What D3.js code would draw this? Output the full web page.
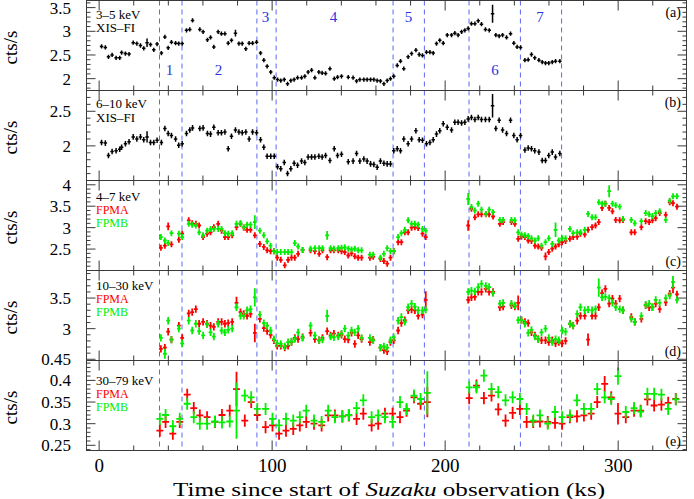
<!DOCTYPE html>
<html><head><meta charset="utf-8">
<script src="https://cdn.jsdelivr.net/npm/d3@7"></script>
<style>body{margin:0;background:#fff} svg{display:block}</style>
</head><body><svg id="c" width="694" height="499"></svg>
<script>
// ---------------- DATA ----------------
const xTickLabels = [0, 100, 200, 300];
const boundaries = [34.9, 47.9, 91.2, 102.3, 169.9, 188.0, 213.8, 243.5, 267.3];
const regionLabels = ["1","2","3","4","5","6","7"];
const regionTimes = [40.7, 69.0, 96.2, 135.5, 178.8, 228.8, 254.8];

// XIS-FI time bins (ks)
const xisT = [1.4,3.6,5.4,7.5,9.8,11.9,13.0,15.2,17.3,19.7,21.8,23.9,25.8,27.7,29.7,31.6,33.5,
 36.0,38.0,39.9,41.8,44.2,46.0,48.0,
 50.5,52.4,54.0,58.2,60.1,62.6,64.4,66.3,68.8,70.7,72.7,74.6,76.5,78.8,80.8,82.7,84.8,86.7,88.7,91.0,
 93.3,95.2,97.1,99.2,101.2,103.1,105.0,107.0,108.9,110.8,112.7,114.7,117.0,118.9,120.8,122.8,124.7,127.0,128.9,130.9,133.4,135.9,137.8,140.1,144.0,
 146.8,148.8,150.7,153.0,154.9,156.9,158.8,160.7,162.6,164.6,166.5,168.4,170.3,172.3,174.2,176.1,178.6,180.6,183.1,185.0,
 186.9,189.2,191.2,193.1,195.0,196.9,198.9,201.2,203.7,205.6,207.5,209.5,211.4,213.3,215.2,217.2,219.1,221.0,223.3,225.5,
 227.4,229.3,231.2,233.2,235.5,237.8,239.7,241.6,243.6,246.1,248.0,249.9,251.8,254.2,256.1,258.0,259.9,261.9,263.8,266.3];
// (a) 3-5 keV
const xisA = [2.68,2.66,2.46,2.50,2.44,2.44,2.55,2.53,2.52,2.76,2.74,2.70,2.64,2.76,2.72,2.61,2.73,
 2.54,2.88,2.65,2.77,2.75,2.74,2.74,
 3.02,3.04,3.23,3.04,2.99,2.82,2.87,2.67,2.99,2.95,2.95,2.75,2.81,2.96,2.74,2.74,2.63,2.75,2.75,2.77,
 2.54,2.39,2.26,2.14,2.02,1.98,1.96,1.98,1.89,1.96,1.98,2.02,2.02,2.05,2.14,2.18,2.02,2.14,2.12,2.11,2.21,2.00,2.03,2.05,2.03,
 2.02,1.95,1.98,1.98,1.98,1.98,1.98,1.96,1.95,1.89,1.96,2.00,2.05,2.28,2.37,2.21,2.46,2.53,2.60,2.51,
 2.49,2.56,2.56,2.54,2.74,2.81,2.75,2.92,2.92,2.96,2.92,2.99,3.02,3.06,3.16,3.16,3.22,3.15,3.04,3.02,
 3.37,2.92,2.90,2.92,2.87,2.95,2.75,2.67,2.66,2.39,2.40,2.51,2.44,2.39,2.35,2.33,2.33,2.35,2.37,2.37];
// (b) 6-10 keV
const xisB = [2.05,2.04,1.86,1.92,1.93,1.95,1.98,2.03,2.06,2.13,2.10,2.13,2.09,2.13,2.05,2.05,2.08,
 2.05,2.25,2.18,2.15,2.10,2.01,2.03,
 2.18,2.23,2.26,2.25,2.26,2.18,2.17,2.27,2.19,2.19,2.20,1.96,2.14,2.23,2.20,2.19,2.20,2.10,2.20,2.19,
 2.09,1.98,1.85,1.85,1.85,1.70,1.67,1.76,1.60,1.67,1.75,1.72,1.78,1.76,1.84,1.84,1.84,1.85,1.84,1.86,1.79,1.96,1.86,1.88,1.77,
 1.78,1.89,1.78,1.81,1.78,1.74,1.73,1.69,1.78,1.75,1.74,1.74,1.93,1.96,1.93,2.10,2.03,2.10,2.22,2.09,
 2.08,2.03,2.05,2.09,2.17,2.22,2.32,2.27,2.23,2.34,2.34,2.33,2.34,2.39,2.41,2.38,2.41,2.38,2.38,2.38,
 2.58,2.25,2.37,2.23,2.18,2.37,2.15,2.09,2.15,1.94,1.97,1.96,1.93,1.91,1.79,1.79,1.86,1.91,1.84,1.89];
const xisAErr = 0.045, xisBErr = 0.04;
const xisABig = [[27.7,0.09],[78.8,0.07],[227.4,0.19]];
const xisBBig = [[27.7,0.08],[227.4,0.17]];

// NuSTAR fine bins (ks), panels (c) and (d)
const nuT = [35.7,38.0,39.9,41.8,46.1,48.0,51.8,53.8,55.9,57.8,60.1,62.4,64.4,66.3,68.8,70.8,72.7,74.6,76.9,79.4,
 81.7,83.6,85.5,87.5,90.0,92.9,95.2,97.1,99.1,101.0,102.9,105.0,107.3,109.2,111.2,113.1,115.0,117.6,122.2,124.7,
 127.2,129.1,131.8,133.8,135.7,138.2,140.1,142.0,144.0,145.9,147.8,149.7,151.7,156.5,158.4,162.6,164.6,166.5,168.4,170.3,
 172.8,174.7,176.7,178.6,180.6,182.5,184.4,186.9,188.8,213.3,215.2,217.2,219.1,221.0,223.5,225.4,227.7,231.6,233.5,238.3,
 240.3,242.2,244.1,246.1,248.0,249.9,251.9,253.8,255.7,258.0,259.9,261.9,263.8,265.7,267.6,269.6,272.1,274.0,276.3,278.2,
 280.7,282.6,284.9,286.9,288.8,290.7,292.6,294.8,296.7,298.6,300.9,302.8,307.6,309.6,313.4,315.9,317.9,319.8,321.7,324.0,
 327.5,329.8,331.7,334.0];
// (c) 4-7 keV
const c_FPMA = [2.53,2.58,3.03,2.61,2.72,2.86,3.17,3.10,3.09,3.05, 2.78,2.86,2.89,3.01,3.09,2.93,2.78,2.78,2.82,3.01,
 3.09,3.00,2.95,2.95,2.82,2.62,2.55,2.47,2.45,2.45, 2.30,2.25,2.12,2.25,2.30,2.30,2.39,2.48,2.47,2.45,
 2.39,2.47,2.31,2.47,2.47,2.47,2.45,2.43,2.35,2.40, 2.33,2.30,2.30,2.30,2.32,2.27,2.22,2.16,2.30,2.45,
 2.66,2.66,2.89,2.89,3.00,3.01,2.99,2.86,2.78,3.05, 3.44,3.24,3.31,3.31,3.31,3.31,3.26,3.09,3.13,3.13,
 3.09,2.74,2.79,2.78,2.70,2.69,2.58,2.56,2.53,2.33, 2.43,2.51,2.56,2.61,2.66,2.69,2.74,2.78,2.79,2.86,
 2.84,2.95,3.01,3.05,3.13,3.46,3.56,3.46,3.38,3.18, 3.17,3.18,2.89,2.89,3.01,3.15,3.13,3.17,3.22,3.34,
 3.30,3.59,3.57,3.49];
const c_FPMB = [2.78,2.70,2.64,2.87,2.86,2.78,3.09,3.07,3.05,2.89, 2.82,2.93,2.97,2.97,2.97,2.97,2.87,2.86,2.87,3.09,
 3.10,3.01,3.07,3.07,3.13,2.93,2.82,2.68,2.58,2.45, 2.43,2.43,2.43,2.43,2.43,2.64,2.56,2.48,2.51,2.52,
 2.52,2.52,2.82,2.52,2.51,2.52,2.53,2.54,2.51,2.49, 2.51,2.47,2.47,2.37,2.37,2.30,2.39,2.52,2.45,2.45,
 2.78,2.87,2.95,3.17,3.09,3.09,3.07,2.97,2.93,3.67, 3.48,3.40,3.56,3.42,3.32,3.42,3.36,3.18,3.18,3.18,
 3.17,2.89,2.84,2.82,2.80,2.75,2.70,2.75,2.58,2.66, 2.75,2.62,2.95,2.70,2.75,2.75,2.97,2.87,2.89,2.89,
 2.95,3.32,3.24,3.24,3.59,3.56,3.56,3.85,3.56,3.52, 3.49,3.20,3.18,3.10,3.15,3.34,3.31,3.27,3.34,3.38,
 3.18,3.63,3.73,3.73];
// (d) 10-30 keV
const d_FPMA = [2.67,2.69,2.95,2.82,3.05,2.85,3.25,3.27,3.32,3.08, 3.11,3.08,3.05,3.03,3.11,3.11,3.08,3.09,3.11,3.42,
 3.27,3.24,3.21,3.24,2.93,3.16,3.01,2.96,2.90,2.81, 2.72,2.72,2.69,2.72,2.78,2.85,2.83,2.86,2.93,2.83,
 2.81,2.85,2.96,2.89,2.92,2.89,2.90,2.83,2.82,2.93, 2.75,2.89,2.83,2.78,2.82,2.69,2.65,2.63,2.78,2.81,
 2.97,3.09,3.14,3.30,3.31,3.30,3.21,3.23,3.47,3.47, 3.51,3.52,3.60,3.60,3.65,3.60,3.60,3.35,3.36,3.38,
 3.36,3.42,3.14,3.11,3.09,2.94,2.89,2.83,2.81,2.81, 2.78,2.81,2.76,2.78,2.76,2.80,3.08,3.05,3.13,3.21,
 3.21,2.82,3.21,3.21,3.35,3.58,3.65,3.41,3.49,3.41, 3.49,3.30,3.19,3.11,3.16,3.38,3.35,3.35,3.41,3.32,
 3.43,3.57,3.67,3.56];
const d_FPMB = [2.85,2.59,3.13,2.82,3.00,2.76,3.13,2.97,3.08,2.96, 2.89,3.07,2.94,2.87,3.08,2.97,2.94,2.98,3.00,3.35,
 3.21,3.21,3.30,3.32,3.51,3.23,3.09,3.05,2.97,2.83, 2.76,2.75,2.71,2.78,2.79,2.83,2.94,2.85,3.05,2.89,
 2.81,2.82,3.21,2.87,2.86,2.87,2.92,3.00,2.89,2.97, 2.94,3.00,2.85,2.85,2.81,2.69,2.71,2.69,2.81,2.86,
 3.13,3.19,3.11,3.35,3.41,3.36,3.30,3.30,3.31,3.60, 3.62,3.61,3.68,3.73,3.70,3.68,3.58,3.41,3.42,3.41,
 3.38,3.14,3.14,3.08,2.93,2.98,2.87,2.83,2.94,3.00, 2.85,2.78,2.83,2.81,2.97,2.95,3.08,3.05,3.24,3.35,
 3.30,3.31,3.30,3.32,3.67,3.51,3.52,3.50,3.42,3.35, 3.32,3.30,3.16,3.11,3.21,3.39,3.41,3.35,3.47,3.42,
 3.50,3.54,3.76,3.47];
const cErr = 0.07, dErr = 0.06;
const c_FPMABig = [[39.9,0.09],[213.3,0.12],[258.0,0.09]];
const c_FPMBBig = [[90.0,0.16],[131.8,0.10],[213.3,0.14],[263.8,0.17],[294.8,0.14]];
const d_FPMABig = [[79.4,0.10],[90.0,0.15],[188.8,0.14],[242.2,0.12],[282.6,0.10],[331.7,0.09]];
const d_FPMBBig = [[38.0,0.08],[90.0,0.15],[131.8,0.10],[288.8,0.15],[331.7,0.10]];

// NuSTAR coarse bins (ks), panel (e) 30-79 keV
const nuTe = [35.1,38.4,42.6,46.6,50.9,54.7,58.2,62.4,66.9,71.0,75.5,79.4,84.2,87.9,91.4,96.2,100.2,104.0,108.0,112.2,
 116.0,119.7,124.2,128.6,132.4,136.3,140.6,144.3,148.8,152.7,157.5,161.3,165.2,169.6,173.9,177.7,182.0,185.8,189.7,
 213.9,218.1,222.4,226.8,230.7,234.9,239.0,243.2,247.1,250.9,254.8,259.3,263.5,267.6,272.1,276.2,280.2,284.4,287.9,292.2,
 296.0,299.9,304.4,309.2,313.0,316.9,320.8,325.0,328.9,333.3];
const e_FPMA = [0.284,0.304,0.277,0.304,0.367,0.336,0.319,0.315,0.304,0.320,0.330,0.380,0.307,0.350,0.320,0.292,0.296,0.277,0.284,0.288,
 0.296,0.304,0.300,0.296,0.319,0.319,0.317,0.319,0.311,0.323,0.296,0.300,0.323,0.323,0.315,0.330,0.361,0.346,0.350,
 0.359,0.388,0.359,0.365,0.333,0.307,0.325,0.334,0.304,0.304,0.305,0.304,0.302,0.300,0.315,0.317,0.319,0.323,0.350,0.392,
 0.361,0.323,0.315,0.330,0.330,0.356,0.342,0.344,0.348,0.357];
const e_FPMB = [0.311,0.320,0.294,0.311,0.346,0.315,0.300,0.300,0.305,0.303,0.305,0.330,0.365,0.361,0.334,0.334,0.311,0.296,0.311,0.307,
 0.315,0.330,0.307,0.304,0.330,0.315,0.317,0.320,0.336,0.354,0.315,0.319,0.315,0.304,0.350,0.334,0.365,0.357,0.371,
 0.384,0.384,0.411,0.380,0.373,0.354,0.361,0.357,0.334,0.307,0.319,0.300,0.327,0.315,0.319,0.354,0.334,0.334,0.380,0.361,
 0.357,0.410,0.327,0.336,0.328,0.369,0.369,0.367,0.334,0.356];
const eErr = 0.014;
const e_FPMABig = [[79.4,0.04],[189.7,0.035],[292.2,0.018],[299.9,0.025]];
const e_FPMBBig = [[79.4,0.065],[189.7,0.05],[299.9,0.02]];

// y tick labels per panel
const yLabA = [2, 2.5, 3, 3.5];
const yLabB = [2, 2.5];
const yLabC = [2.5, 3, 3.5, 4];
const yLabD = [3, 3.5];
const yLabE = [0.25, 0.3, 0.35, 0.4, 0.45];

// ---------------- LAYOUT ----------------
const FONT = "'Liberation Serif', 'Times New Roman', serif";
const svg = d3.select('#c');
const X0 = 86.5, X1 = 686.5, PH = 90;
const x = d3.scaleLinear().domain([-7.3, 339.5]).range([X0, X1]);
const RED = '#ff0000', GREEN = '#00ee00';

const panels = [
  {id:'a', top:0.5, dom:[1.75,3.65], minor:0.1, major:0.5, labels:yLabA, tag:'(a)', tagTop:true,
   texts:[['3\u20135 keV','#000',13,18.5],['XIS\u2013FI','#000',13,32]]},
  {id:'b', top:90.5, dom:[1.5,2.8], minor:0.1, major:0.5, labels:yLabB, tag:'(b)', tagTop:true,
   texts:[['6\u201310 keV','#000',13,108],['XIS\u2013FI','#000',13,121.5]]},
  {id:'c', top:180.5, dom:[2.0,4.1], minor:0.1, major:0.5, labels:yLabC, tag:'(c)', tagTop:false,
   texts:[['4\u20137 keV','#000',13,200.5],['FPMA',RED,12,213.5],['FPMB',GREEN,12,226.5]]},
  {id:'d', top:270.5, dom:[2.48,3.95], minor:0.1, major:0.5, labels:yLabD, tag:'(d)', tagTop:false,
   texts:[['10\u201330 keV','#000',13,289.5],['FPMA',RED,12,302.5],['FPMB',GREEN,12,315.5]]},
  {id:'e', top:360.5, dom:[0.238,0.446], minor:0.01, major:0.05, labels:yLabE, tag:'(e)', tagTop:false,
   texts:[['30\u201379 keV','#000',13,384.5],['FPMA',RED,12,397.5],['FPMB',GREEN,12,410.5]]}
];
panels.forEach(p => {
  p.y = d3.scaleLinear().domain(p.dom).range([p.top + PH, p.top]);
});

// boundaries (dashed)
svg.append('g').selectAll('line').data(boundaries).join('line')
  .attr('x1', d => x(d)).attr('x2', d => x(d))
  .attr('y1', panels[0].top).attr('y2', panels[4].top + PH)
  .attr('stroke', '#5a68f2').attr('stroke-width', 1).attr('stroke-dasharray', '5,4');

function drawSeries(g, p, t, v, err, big, hw, color, lw) {
  const bm = new Map(big);
  const pts = t.map((ti, i) => ({t: ti, v: v[i], e: bm.has(ti) ? bm.get(ti) : err}));
  const s = g.append('g').attr('stroke', color).attr('stroke-width', lw).attr('stroke-linecap', 'butt');
  s.selectAll('line.h').data(pts).join('line').attr('class', 'h')
    .attr('x1', d => x(d.t - hw)).attr('x2', d => x(d.t + hw))
    .attr('y1', d => p.y(d.v)).attr('y2', d => p.y(d.v));
  s.selectAll('line.v').data(pts).join('line').attr('class', 'v')
    .attr('x1', d => x(d.t)).attr('x2', d => x(d.t))
    .attr('y1', d => p.y(d.v - d.e)).attr('y2', d => p.y(d.v + d.e));
}

const defs = svg.append('defs');
panels.forEach(p => {
  defs.append('clipPath').attr('id', 'clip' + p.id).append('rect')
    .attr('x', X0).attr('y', p.top).attr('width', X1 - X0).attr('height', PH);
  const g = svg.append('g').attr('clip-path', `url(#clip${p.id})`);
  if (p.id === 'a') drawSeries(g, p, xisT, xisA, xisAErr, xisABig, 1.0, '#000', 1.5);
  if (p.id === 'b') drawSeries(g, p, xisT, xisB, xisBErr, xisBBig, 1.0, '#000', 1.5);
  if (p.id === 'c') { drawSeries(g, p, nuT, c_FPMA, cErr, c_FPMABig, 1.1, RED, 1.8);
                      drawSeries(g, p, nuT, c_FPMB, cErr, c_FPMBBig, 1.1, GREEN, 1.8); }
  if (p.id === 'd') { drawSeries(g, p, nuT, d_FPMA, dErr, d_FPMABig, 1.1, RED, 1.8);
                      drawSeries(g, p, nuT, d_FPMB, dErr, d_FPMBBig, 1.1, GREEN, 1.8); }
  if (p.id === 'e') { drawSeries(g, p, nuTe, e_FPMA, eErr, e_FPMABig, 2.0, RED, 1.8);
                      drawSeries(g, p, nuTe, e_FPMB, eErr, e_FPMBBig, 2.0, GREEN, 1.8); }
});

// axes / frames
const AX = '#3a3a3a';
panels.forEach(p => {
  const g = svg.append('g');
  const bot = p.top + PH;
  g.append('rect').attr('x', X0).attr('y', p.top).attr('width', X1 - X0).attr('height', PH)
    .attr('fill', 'none').attr('stroke', AX).attr('stroke-width', 1);
  const xt = d3.range(0, 340, 20);
  xt.forEach(t => {
    const L = (t % 100 === 0) ? 10 : 5;
    g.append('line').attr('x1', x(t)).attr('x2', x(t)).attr('y1', bot).attr('y2', bot - L).attr('stroke', AX);
    g.append('line').attr('x1', x(t)).attr('x2', x(t)).attr('y1', p.top).attr('y2', p.top + L).attr('stroke', AX);
  });
  const n0 = Math.ceil(p.dom[0] / p.minor - 1e-6), n1 = Math.floor(p.dom[1] / p.minor + 1e-6);
  d3.range(n0, n1 + 1).forEach(k => {
    const val = k * p.minor;
    const isMaj = Math.abs(val / p.major - Math.round(val / p.major)) < 1e-6;
    const L = isMaj ? 9 : 4;
    const yy = p.y(val);
    g.append('line').attr('x1', X0).attr('x2', X0 + L).attr('y1', yy).attr('y2', yy).attr('stroke', AX);
    g.append('line').attr('x1', X1).attr('x2', X1 - L).attr('y1', yy).attr('y2', yy).attr('stroke', AX);
  });
  g.selectAll('text.yl').data(p.labels).join('text').attr('class', 'yl')
    .attr('x', 71).attr('y', d => p.y(d)).attr('dy', '0.35em')
    .attr('text-anchor', 'end').attr('font-family', FONT).attr('font-size', 17).attr('fill', '#000')
    .text(d => String(d));
  g.append('text').attr('transform', `translate(17,${p.top + PH / 2 + 2}) rotate(-90)`)
    .attr('text-anchor', 'middle').attr('font-family', FONT).attr('font-size', 19).text('cts/s');
  p.texts.forEach(([s, col, fs, yb]) => {
    g.append('text').attr('x', 96).attr('y', yb).attr('font-family', FONT).attr('font-size', fs)
      .attr('fill', col).text(s);
  });
  g.append('text').attr('x', 681).attr('y', p.tagTop ? p.top + 16.5 : bot - 4.5)
    .attr('text-anchor', 'end').attr('font-family', FONT).attr('font-size', 14).text(p.tag);
});

// region numbers (panel a)
const regionRowY = [75, 75, 22, 22, 22, 75, 22];
svg.append('g').selectAll('text').data(regionLabels).join('text')
  .attr('x', (d, i) => x(regionTimes[i])).attr('y', (d, i) => regionRowY[i])
  .attr('text-anchor', 'middle').attr('font-family', FONT).attr('font-size', 15)
  .attr('fill', '#2a34e0').text(d => d);

// x tick labels (bottom)
svg.append('g').selectAll('text').data(xTickLabels).join('text')
  .attr('x', d => x(d)).attr('y', 471.5).attr('text-anchor', 'middle')
  .attr('font-family', FONT).attr('font-size', 19).text(d => d);

// x title
const title = svg.append('text').attr('x', 389).attr('y', 495.5).attr('text-anchor', 'middle')
  .attr('font-family', FONT).attr('font-size', 19)
  .attr('textLength', 432).attr('lengthAdjust', 'spacingAndGlyphs');
title.append('tspan').text('Time since start of ');
title.append('tspan').attr('font-style', 'italic').text('Suzaku');
title.append('tspan').text(' observation (ks)');
</script></body></html>
